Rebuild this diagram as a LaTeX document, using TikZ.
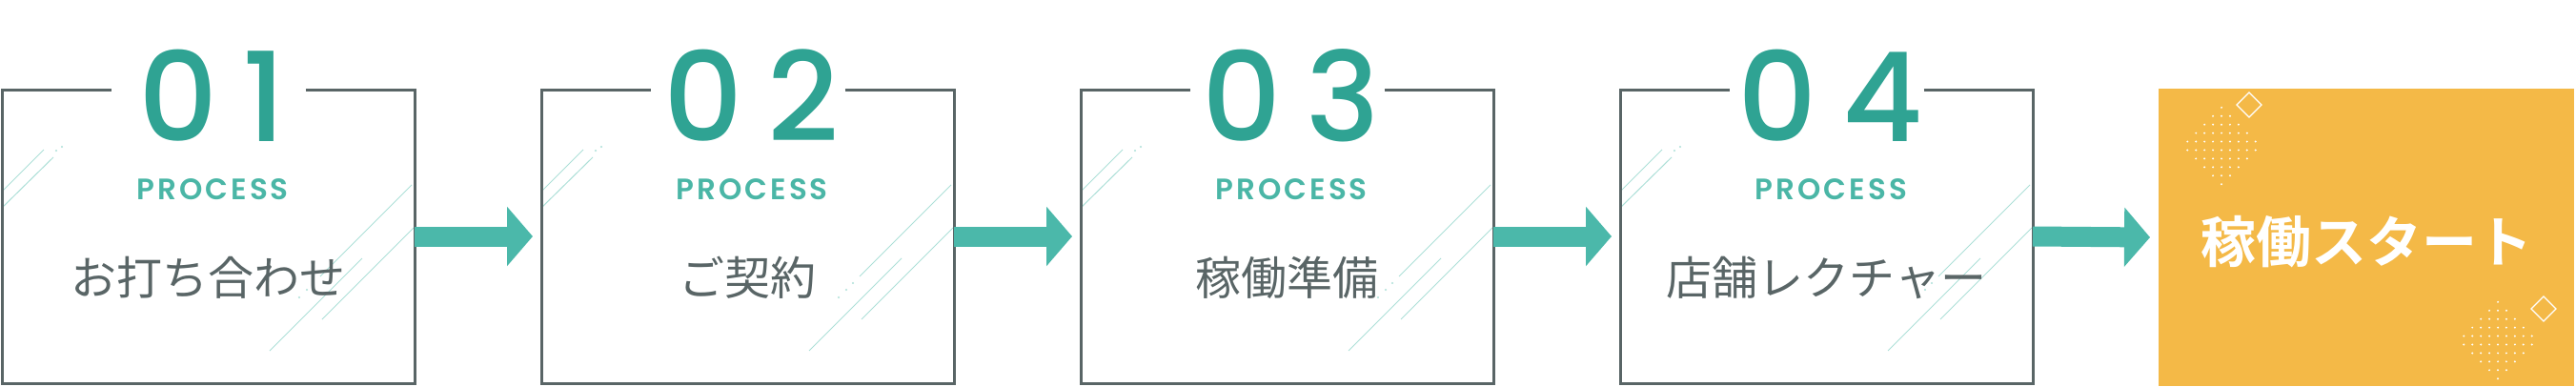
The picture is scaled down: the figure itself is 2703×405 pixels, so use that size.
\documentclass[tikz,border=0pt]{standalone}
\usepackage{fontspec}
\setmainfont{Noto Sans CJK JP}
\newfontfamily\jpbold{Noto Sans CJK JP Bold}
\newfontfamily\numfont{Poppins Medium}[LetterSpace=20]
\newfontfamily\procfont{Poppins SemiBold}[LetterSpace=10]
\usetikzlibrary{positioning,arrows.meta}
\definecolor{boxgray}{RGB}{89,101,102}
\definecolor{numteal}{RGB}{47,163,147}
\definecolor{procteal}{RGB}{74,182,166}
\definecolor{arrowteal}{RGB}{75,184,170}
\definecolor{glintteal}{RGB}{172,223,215}
\definecolor{goalorange}{RGB}{244,185,71}

\begin{document}
\begin{tikzpicture}[x=1pt,y=-1pt,
			stepbox/.style={minimum width=433pt,minimum height=308pt,inner sep=0pt,outer sep=0pt},
			goalbox/.style={fill=goalorange,minimum width=436pt,minimum height=312pt,inner sep=0pt,outer sep=0pt},
			frameline/.style={draw=boxgray,line width=3pt},
			numtext/.style={font=\numfont\fontsize{130}{130}\selectfont,text=numteal,anchor=base,inner sep=0pt},
			proctext/.style={font=\procfont\fontsize{31}{31}\selectfont,text=procteal,anchor=base,inner sep=0pt},
			steptext/.style={font=\fontsize{48}{48}\selectfont,text=boxgray,inner sep=0pt},
			goaltext/.style={font=\jpbold\fontsize{58}{58}\selectfont,text=white,inner sep=0pt},
			flowarrow/.style={draw=arrowteal,line width=21pt,-{Triangle[length=27pt,width=61pt]}},
			spark/.style={draw=white,line width=1.3pt},
			glints/.pic={
				\draw[glintteal,line width=1pt] (0,107) -- (44,63) (0,124) -- (54,71)
					(430,100) -- (334,196) (378,177) -- (281,274) (432,145) -- (336,241);
				\fill[glintteal] (57,64) circle[radius=1.2pt] (63,60) circle[radius=1.2pt]
					(327,203) circle[radius=1.2pt] (320,210) circle[radius=1.2pt] (312,218) circle[radius=1.2pt];
			},
			dotfield/.pic={
				\foreach \i in {-4,...,4}
					\foreach \j in {-5,...,4} {
						\pgfmathtruncatemacro\inside{abs(\i)+abs(\j+0.5)<=4.5}
						\ifnum\inside=1 \fill[white] (8.93*\i,8.93*\j+4.47) circle[radius=1.1pt]; \fi
					}
			}]
			\useasboundingbox (0,0) rectangle (2703,405);
			% the four steps
			\node (b1) [stepbox] at (218.5,248) {};
			\node (b2) [stepbox,right=133pt of b1] {};
			\node (b3) [stepbox,right=133pt of b2] {};
			\node (b4) [stepbox,right=133pt of b3] {};
			\node (goal) [goalbox,right=132pt of b4,yshift=-1pt] {};

			\pic at (b1.north west) {glints};
			\pic at (b2.north west) {glints};
			\pic at (b3.north west) {glints};
			\pic at (b4.north west) {glints};

			\draw[frameline] ([xshift=102pt]b1.north) -| (b1.south east) -| (b1.north west) -- ([xshift=-102pt]b1.north);
			\draw[frameline] ([xshift=102pt]b2.north) -| (b2.south east) -| (b2.north west) -- ([xshift=-102pt]b2.north);
			\draw[frameline] ([xshift=102pt]b3.north) -| (b3.south east) -| (b3.north west) -- ([xshift=-102pt]b3.north);
			\draw[frameline] ([xshift=102pt]b4.north) -| (b4.south east) -| (b4.north west) -- ([xshift=-102pt]b4.north);

			\node (n1) [numtext] at ([xshift=4pt,yshift=-54pt]b1.north) {01};
			\node (n2) [numtext] at ([xshift=4pt,yshift=-54pt]b2.north) {02};
			\node (n3) [numtext] at ([xshift=4pt,yshift=-54pt]b3.north) {03};
			\node (n4) [numtext] at ([xshift=4pt,yshift=-54pt]b4.north) {04};

			\node (p1) [proctext] at ([xshift=4.5pt,yshift=-115pt]b1.north) {PROCESS};
			\node (p2) [proctext] at ([xshift=4.5pt,yshift=-115pt]b2.north) {PROCESS};
			\node (p3) [proctext] at ([xshift=4.5pt,yshift=-115pt]b3.north) {PROCESS};
			\node (p4) [proctext] at ([xshift=4.5pt,yshift=-115pt]b4.north) {PROCESS};

			\node (t1) [steptext] at ([yshift=-197pt]b1.north) {お打ち合わせ};
			\node (t2) [steptext] at ([yshift=-197pt]b2.north) {ご契約};
			\node (t3) [steptext] at ([yshift=-197pt]b3.north) {稼働準備};
			\node (t4) [steptext] at ([yshift=-197pt]b4.north) {店舗レクチャー};

			\draw[flowarrow] (b1.east) -- ([xshift=-9pt]b2.west);
			\draw[flowarrow] (b2.east) -- ([xshift=-9pt]b3.west);
			\draw[flowarrow] (b3.east) -- ([xshift=-9pt]b4.west);
			\draw[flowarrow] (b4.east) -- ([xshift=-9pt]goal.west);

			% decoration of the goal
			\pic at (2331,153) {dotfield};
			\pic at (2621,357) {dotfield};
			\draw[spark] (2360,97) -- (2373,110) -- (2360,123) -- (2347,110) -- cycle;
			\draw[spark] (2669,311) -- (2682,324) -- (2669,337) -- (2656,324) -- cycle;
			\node (g) [goaltext] at ([yshift=-5pt]goal.center) {稼働スタート};
		\end{tikzpicture}
\end{document}
